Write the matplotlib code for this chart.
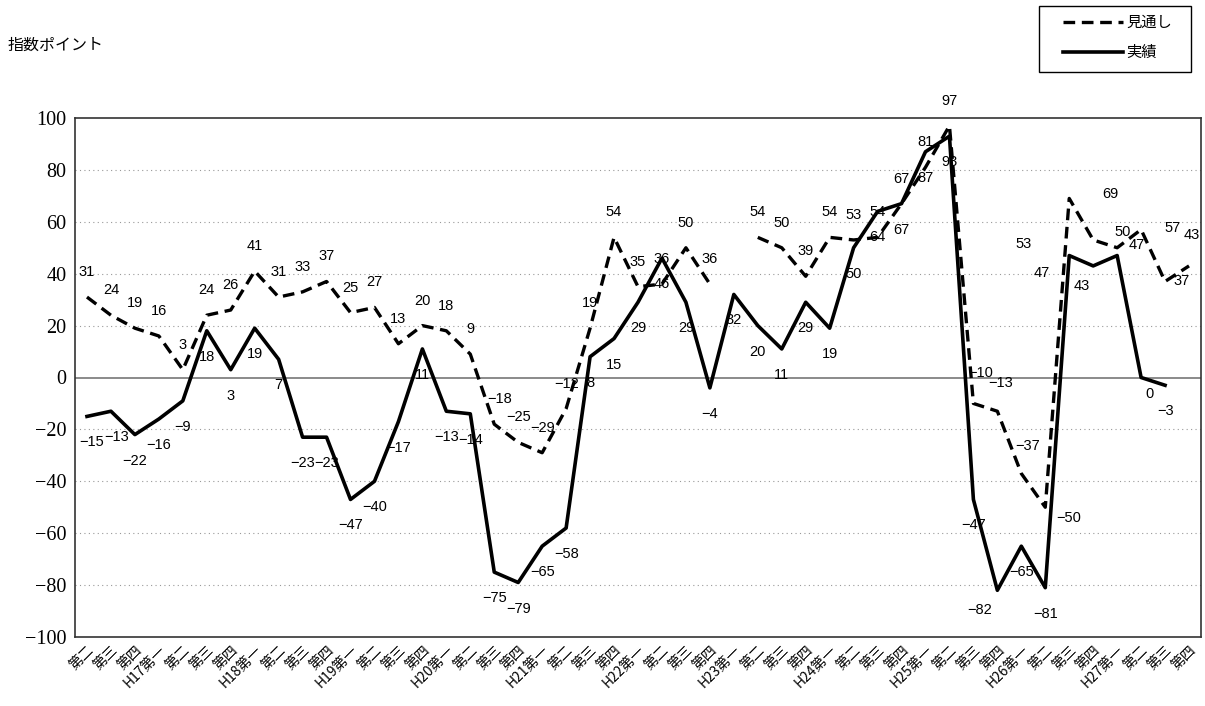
import numpy as np
import matplotlib
matplotlib.use('Agg')
import matplotlib.pyplot as plt
from matplotlib.lines import Line2D
from matplotlib.patches import Rectangle

plt.rcParams['font.family'] = ['Noto Sans CJK JP', 'DejaVu Sans']

# 四半期ラベル（H16第二～H27第四）
quarters = ['第二', '第三', '第四']
for year in range(17, 28):
    quarters += [f'H{year}第一', '第二', '第三', '第四']

# 見通し（H23第一は欠測）
outlook = [31, 24, 19, 16, 3, 24, 26, 41, 31, 33, 37, 25, 27, 13, 20, 18, 9,
           -18, -25, -29, -12, 19, 54, 35, 36, 50, 36, None, 54, 50, 39, 54,
           53, 54, 67, 81, 97, -10, -13, -37, -50, 69, 53, 50, 57, 37, 43]

# 実績
actual = [-15, -13, -22, -16, -9, 18, 3, 19, 7, -23, -23, -47, -40, -17, 11,
          -13, -14, -75, -79, -65, -58, 8, 15, 29, 46, 29, -4, 32, 20, 11, 29,
          19, 50, 64, 67, 87, 93, -47, -82, -65, -81, 47, 43, 47, 0, -3]

yticks = [100, 80, 60, 40, 20, 0, -20, -40, -60, -80, -100]
series_names = ['見通し', '実績']

# ラベル位置の個別調整（ピクセル）
outlook_off = {17: (5, 25), 37: (7, 30), 38: (3, 28), 39: (6, 28), 40: (23, -11),
               41: (41, 4), 42: (-70, -4), 43: (5, 16), 44: (31, 2),
               45: (17, 0), 46: (3, 31)}
actual_off = {0: (5, -26), 1: (6, -26), 38: (-18, -20), 41: (-27, -17),
              42: (-11, -20), 43: (20, 11), 44: (8, -16)}

W, H = 1205, 706
fig = plt.figure(figsize=(W / 100, H / 100), dpi=100)
ax = fig.add_axes([75 / W, 1 - 637 / H, 1126 / W, 519 / H])

dash = (0, (3.5, 2))
x = np.arange(len(quarters))
yo = np.array([np.nan if v is None else v for v in outlook], dtype=float)
ya = np.array(actual, dtype=float)

ax.plot(x, yo, color='black', lw=2.4, linestyle=dash, zorder=3)
ax.plot(x[:len(ya)], ya, color='black', lw=2.6, zorder=3)

def fmt(v):
    return str(v).replace('-', '\u2212')

for i, v in enumerate(outlook):
    if v is None:
        continue
    dx, dy = outlook_off.get(i, (0, 25))
    ax.annotate(fmt(v), (i, v), xytext=(dx, dy), textcoords='offset pixels',
                ha='center', va='center', fontsize=10.5,
                family=['Liberation Sans'], zorder=4)
for i, v in enumerate(actual):
    dx, dy = actual_off.get(i, (0, -26))
    ax.annotate(fmt(v), (i, v), xytext=(dx, dy), textcoords='offset pixels',
                ha='center', va='center', fontsize=10.5,
                family=['Liberation Sans'], zorder=4)

ax.set_xlim(-0.5, len(quarters) - 0.5)
ax.set_ylim(-100, 100)
ax.set_yticks(yticks)
ax.set_yticklabels([fmt(t) for t in yticks], family=['Liberation Serif'],
                   fontsize=14.5)
ax.set_xticks(x)
ax.set_xticklabels(quarters, rotation=45, ha='right', va='top',
                   rotation_mode='anchor', fontsize=10)
ax.tick_params(axis='both', length=0, pad=6)
ax.tick_params(axis='x', pad=4)

for t in [80, 60, 40, 20, -20, -40, -60, -80]:
    ax.axhline(t, color='#999999', lw=0.8, linestyle=(0, (1, 3)), zorder=1)
ax.axhline(0, color='#777777', lw=1.2, zorder=2)

for s in ax.spines.values():
    s.set_color('#333333')
    s.set_linewidth(1.2)

fig.text(8 / W, 1 - 45 / H, '指数ポイント', fontsize=11.5, va='center')

# 凡例（右上の枠）
fig.add_artist(Rectangle((1039 / W, 1 - 72 / H), 152 / W, 66 / H,
                         transform=fig.transFigure, fill=False,
                         edgecolor='black', lw=1.0))
for name, ls, lw, ypx in [(series_names[0], dash, 2.4, 22),
                          (series_names[1], '-', 2.6, 52)]:
    fig.add_artist(Line2D([1063 / W, 1123 / W], [1 - ypx / H] * 2,
                          transform=fig.transFigure, color='black',
                          lw=lw, linestyle=ls))
    fig.text(1126 / W, 1 - ypx / H, name, fontsize=11, va='center')

fig.savefig('out.png', dpi=100, facecolor='white')
